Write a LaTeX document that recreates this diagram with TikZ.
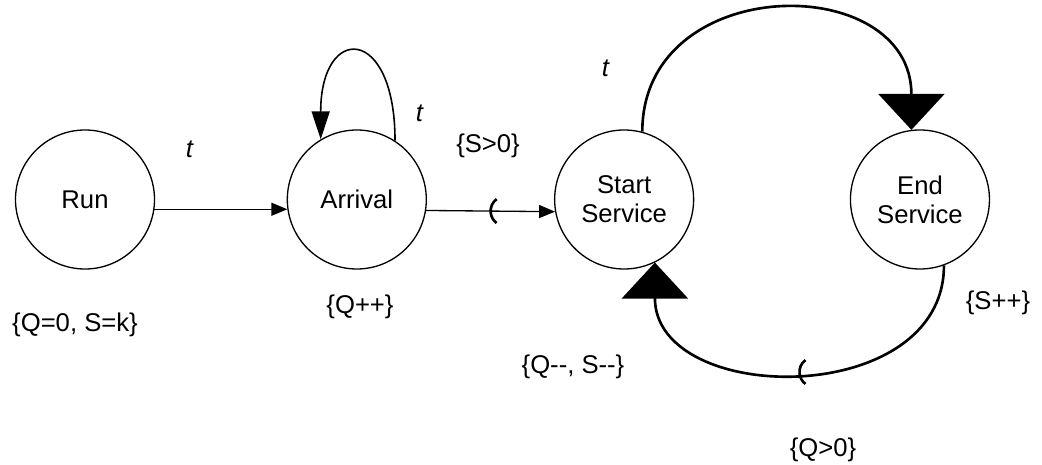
\documentclass[tikz,border=0pt]{standalone}
\usepackage{fontspec}
\setmainfont{Liberation Sans}
\usepackage{tikz}
\usetikzlibrary{arrows.meta,calc,positioning}

\begin{document}
\begin{tikzpicture}[every node/.style={font=\fontsize{14.6}{16.5}\selectfont,align=center},
    evt/.style={draw,circle,line width=0.75pt,minimum size=2.78cm,inner sep=0pt},
    edgeline/.style={line width=0.75pt,-{Triangle[length=0.32cm,width=0.26cm]}},
    loopline/.style={line width=0.9pt,-{Triangle[length=0.56cm,width=0.36cm]}},
    bigline/.style={line width=1.5pt,-{Triangle[length=0.72cm,width=1.32cm]}},
    condmark/.style={line width=1.5pt}]
    \useasboundingbox (0,0) rectangle (20.84,-9.30);
    % the four events
    \node[evt] (run) at (1.70,-3.99) {Run};
    \node[evt,right=2.63cm of run] (arr) {Arrival};
    \node[evt,right=2.54cm of arr] (ss) {Start\\Service};
    \node[evt,right=3.11cm of ss] (es) {End\\Service};
    % scheduling edges
    \draw[edgeline] (run.-8) -- (arr.188);
    \draw[loopline] (arr.57) .. controls +(0,2.32) and +(0,2.32) .. (arr.121);
    \draw[edgeline] (arr.-9) -- (ss.190) coordinate[pos=0.5] (smark);
    \draw[bigline] (ss.75) .. controls +(0,3.2) and +(0,3.2) .. (es.97);
    \draw[bigline] (es.-70) .. controls +(0,-2.88) and +(0,-2.88) .. (ss.-64) coordinate[pos=0.5] (qmark);
    % conditions on the edges
    \draw[condmark] ($(smark)+(0.12,0.24)$) arc[start angle=127,end angle=233,radius=0.3cm];
    \draw[condmark] ($(qmark)+(0.12,0.24)$) arc[start angle=127,end angle=233,radius=0.3cm];
    % delays, state changes and conditions
    \node (t1) at (3.80,-2.98) {\textit{t}};
    \node (t2) at (8.40,-2.26) {\textit{t}};
    \node (t3) at (12.12,-1.36) {\textit{t}};
    \node (init) at (1.50,-6.50) {\{Q=0, S=k\}};
    \node (qinc) at (7.20,-6.14) {\{Q++\}};
    \node (sgt) at (9.76,-2.92) {\{S>0\}};
    \node (dec) at (11.46,-7.34) {\{Q{-}{-}, S{-}{-}\}};
    \node (sinc) at (19.96,-6.06) {\{S++\}};
    \node (qgt) at (16.46,-9.00) {\{Q>0\}};
\end{tikzpicture}
\end{document}
